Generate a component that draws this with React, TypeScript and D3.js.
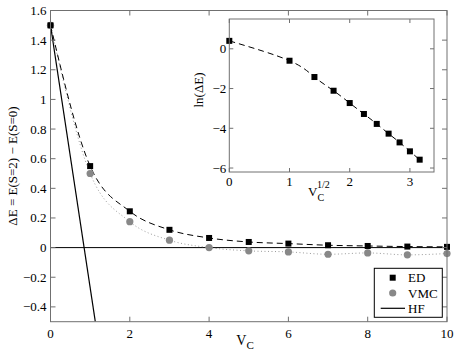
import React from 'react';
import * as d3 from 'd3';

const vc = [0, 1, 2, 3, 4, 5, 6, 7, 8, 9, 10];
const edValues = [1.5, 0.55, 0.245, 0.12, 0.065, 0.038, 0.027, 0.016, 0.011, 0.007, 0.005];
const vmcValues = [1.5, 0.5, 0.175, 0.05, 0.0, -0.022, -0.029, -0.045, -0.036, -0.049, -0.04];
const hfVc = [0, 1.13];
const hfValues = [1.5, -0.5];

const sqrtVc = [0, 1, 1.414, 1.732, 2, 2.236, 2.449, 2.646, 2.828, 3, 3.162];
const lnEd = [0.4, -0.6, -1.42, -2.11, -2.73, -3.28, -3.78, -4.27, -4.71, -5.16, -5.58];

const mainXTicks = [0, 2, 4, 6, 8, 10];
const mainYTicks = [-0.4, -0.2, 0, 0.2, 0.4, 0.6, 0.8, 1, 1.2, 1.4, 1.6];
const insetXTicks = [0, 1, 2, 3];
const insetYTicks = [-6, -4, -2, 0];
const legendLabels = ['ED', 'VMC', 'HF'];

const W = 457, H = 358;
const font = 'Liberation Serif, Times New Roman, DejaVu Serif, serif';
const frame = '#707070';

const x = d3.scaleLinear().domain([0, 10]).range([50.5, 447]);
const y = d3.scaleLinear().domain([-0.5, 1.6]).range([321.7, 10.5]);
const ix = d3.scaleLinear().domain([0, 3.4]).range([229.3, 434]);
const iy = d3.scaleLinear().domain([-6.2, 1.5]).range([172, 19]);

const fmt = (v: number) => {
  const s = d3.format('~g')(+v.toFixed(2));
  return s.replace('-', '\u2212');
};

export default function App() {
  const edLine = d3.line<number>().x((_, i) => x(vc[i])).y(d => y(d)).curve(d3.curveMonotoneX);
  const vmcLine = d3.line<number>().x((_, i) => x(vc[i])).y(d => y(d)).curve(d3.curveMonotoneX);
  const hfLine = d3.line<number>().x((_, i) => x(hfVc[i])).y(d => y(d));
  const inLine = d3.line<number>().x((_, i) => ix(sqrtVc[i])).y(d => iy(d)).curve(d3.curveNatural);

  const [x0, x1] = x.range();
  const [y0, y1] = y.range();
  const [ix0, ix1] = ix.range();
  const [iy0, iy1] = iy.range();
  const tl = 5;

  return (
    <div style={{ position: 'absolute', left: 0, top: 0 }}>
      <svg width={W} height={H} style={{ display: 'block', background: '#fff', fontFamily: font }}>
        <defs>
          <clipPath id="mainclip">
            <rect x={x0} y={y1} width={x1 - x0} height={y0 - y1} />
          </clipPath>
        </defs>
        {/* main axes */}
        <g clipPath="url(#mainclip)">
          <line x1={x0} x2={x1} y1={y(0)} y2={y(0)} stroke="#000" strokeWidth={1} />
          <path d={vmcLine(vmcValues) || ''} fill="none" stroke="#999" strokeWidth={1} strokeDasharray="1,2.5" />
          <path d={edLine(edValues) || ''} fill="none" stroke="#000" strokeWidth={1} strokeDasharray="6,4" />
          <path d={hfLine(hfValues) || ''} fill="none" stroke="#000" strokeWidth={1.2} />
        </g>
        {vmcValues.map((v, i) => (
          <circle key={'v' + i} cx={x(vc[i])} cy={y(v)} r={3.6} fill="#888" />
        ))}
        {edValues.map((v, i) => (
          <rect key={'e' + i} x={x(vc[i]) - 3} y={y(v) - 3} width={6} height={6} fill="#000" />
        ))}
        <rect x={x0} y={y1} width={x1 - x0} height={y0 - y1} fill="none" stroke={frame} strokeWidth={1} />
        {mainXTicks.map(t => (
          <g key={'mx' + t}>
            <line x1={x(t)} x2={x(t)} y1={y0} y2={y0 - tl} stroke={frame} />
            <line x1={x(t)} x2={x(t)} y1={y1} y2={y1 + tl} stroke={frame} />
            <text x={x(t)} y={y0 + 16} textAnchor="middle" fontSize={13}>{fmt(t)}</text>
          </g>
        ))}
        {mainYTicks.map(t => (
          <g key={'my' + t}>
            <line x1={x0} x2={x0 + tl} y1={y(t)} y2={y(t)} stroke={frame} />
            <line x1={x1} x2={x1 - tl} y1={y(t)} y2={y(t)} stroke={frame} />
            <text x={x0 - 4} y={y(t) + 4.5} textAnchor="end" fontSize={13}>{fmt(t)}</text>
          </g>
        ))}
        <text x={245} y={345} textAnchor="middle" fontSize={14}>
          V<tspan fontSize={11} dy={4}>C</tspan>
        </text>
        <text transform={`translate(17,166) rotate(-90)`} textAnchor="middle" fontSize={13}>
          {'\u0394E = E(S=2) \u2212 E(S=0)'}
        </text>

        {/* legend */}
        <rect x={374.3} y={268.3} width={68} height={49} fill="#fff" stroke="#000" strokeWidth={1} />
        {legendLabels.map((l, i) => {
          const ly = 277.7 + i * 15.3;
          return (
            <g key={l}>
              {i === 0 && <rect x={389.7} y={ly - 3} width={6} height={6} fill="#000" />}
              {i === 1 && <circle cx={392.7} cy={ly} r={3.6} fill="#888" />}
              {i === 2 && <line x1={380.7} x2={405} y1={ly} y2={ly} stroke="#000" strokeWidth={1.2} />}
              <text x={408} y={ly + 4.5} fontSize={13}>{l}</text>
            </g>
          );
        })}

        {/* inset */}
        <rect x={ix0} y={iy1} width={ix1 - ix0} height={iy0 - iy1} fill="#fff" stroke="none" />
        <path d={inLine(lnEd) || ''} fill="none" stroke="#000" strokeWidth={1} strokeDasharray="6,4" />
        {lnEd.map((v, i) => (
          <rect key={'i' + i} x={ix(sqrtVc[i]) - 3} y={iy(v) - 3} width={6} height={6} fill="#000" />
        ))}
        <rect x={ix0} y={iy1} width={ix1 - ix0} height={iy0 - iy1} fill="none" stroke={frame} strokeWidth={1} />
        {insetXTicks.map(t => (
          <g key={'ix' + t}>
            <line x1={ix(t)} x2={ix(t)} y1={iy0} y2={iy0 - 4} stroke={frame} />
            <line x1={ix(t)} x2={ix(t)} y1={iy1} y2={iy1 + 4} stroke={frame} />
            <text x={ix(t)} y={iy0 + 14} textAnchor="middle" fontSize={13}>{fmt(t)}</text>
          </g>
        ))}
        {insetYTicks.map(t => (
          <g key={'iy' + t}>
            <line x1={ix0} x2={ix0 + 4} y1={iy(t)} y2={iy(t)} stroke={frame} />
            <line x1={ix1} x2={ix1 - 4} y1={iy(t)} y2={iy(t)} stroke={frame} />
            <text x={ix0 - 3} y={iy(t) + 4.5} textAnchor="end" fontSize={13}>{fmt(t)}</text>
          </g>
        ))}
        <text x={308} y={196} fontSize={13}>
          V<tspan fontSize={10} dy={5}>C</tspan><tspan fontSize={10} dx={-7} dy={-13}>1/2</tspan>
        </text>
        <text transform={`translate(203,90) rotate(-90)`} textAnchor="middle" fontSize={13}>
          ln(ΔE)
        </text>
      </svg>
    </div>
  );
}
